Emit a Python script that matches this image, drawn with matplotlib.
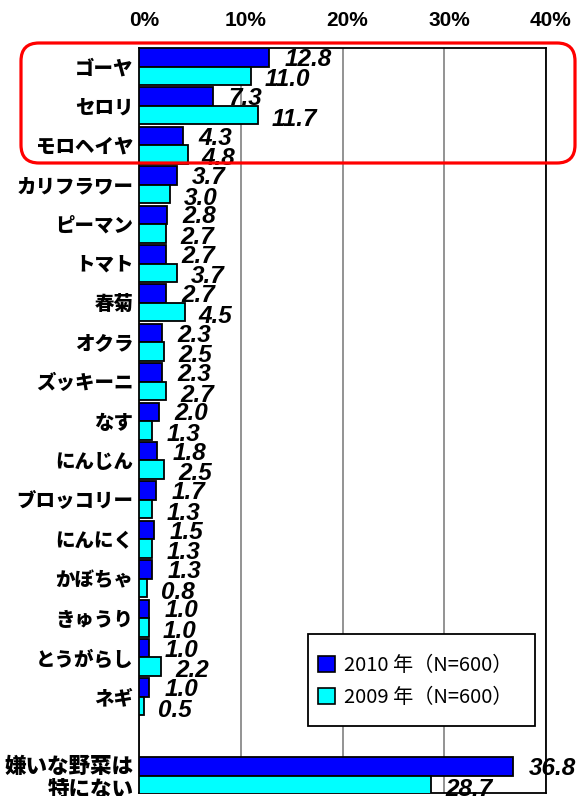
import matplotlib
matplotlib.use("Agg")
import matplotlib.pyplot as plt
from matplotlib.patches import FancyBboxPatch, Patch, Rectangle
from matplotlib.transforms import ScaledTranslation

plt.rcParams['font.family'] = ['Noto Sans CJK JP', 'DejaVu Sans']

# Disliked vegetables, share of respondents (%)
categories = ["ゴーヤ", "セロリ", "モロヘイヤ", "カリフラワー", "ピーマン", "トマト",
              "春菊", "オクラ", "ズッキーニ", "なす", "にんじん", "ブロッコリー",
              "にんにく", "かぼちゃ", "きゅうり", "とうがらし", "ネギ",
              "嫌いな野菜は\n特にない"]
values_2010 = [12.8, 7.3, 4.3, 3.7, 2.8, 2.7, 2.7, 2.3, 2.3, 2.0, 1.8, 1.7,
               1.5, 1.3, 1.0, 1.0, 1.0, 36.8]
values_2009 = [11.0, 11.7, 4.8, 3.0, 2.7, 3.7, 4.5, 2.5, 2.7, 1.3, 2.5, 1.3,
               1.3, 0.8, 1.0, 2.2, 0.5, 28.7]
series_labels = ["2010 年（N=600）", "2009 年（N=600）"]
xticks = [0, 10, 20, 30, 40]
xtick_labels = ["0%", "10%", "20%", "30%", "40%"]

color_2010 = "#0000FF"
color_2009 = "#00FFFF"

W, H = 579, 796
fig = plt.figure(figsize=(W / 100, H / 100), dpi=100)
ax = fig.add_axes([139 / W, 1 - 793 / H, (546 - 139) / W, (793 - 48) / H])

# the "no disliked vegetable" row sits one slot below the rest
n = len(categories)
pos = [i if i < n - 1 else i + 1 for i in range(n)]
bh = 0.47

ax.barh([p - bh / 2 for p in pos], values_2010, height=bh, color=color_2010,
        edgecolor="black", linewidth=1.3, zorder=3)
ax.barh([p + bh / 2 for p in pos], values_2009, height=bh, color=color_2009,
        edgecolor="black", linewidth=1.3, zorder=3)

num_font = dict(family="Liberation Sans", fontsize=17.5, fontweight="bold",
                fontstyle="italic", color="black")
for p, v in zip(pos, values_2010):
    ax.annotate(f"{v:.1f}", xy=(v, p - bh / 2), xytext=(11, -1.5),
                textcoords="offset points", ha="left", va="center",
                annotation_clip=False, zorder=5, **num_font)
for p, v in zip(pos, values_2009):
    ax.annotate(f"{v:.1f}", xy=(v, p + bh / 2), xytext=(10, -3),
                textcoords="offset points", ha="left", va="center",
                annotation_clip=False, zorder=5, **num_font)

ax.set_xlim(0, 40)
ax.set_ylim(18.44, -0.47)

ax.set_yticks(pos)
ax.set_yticklabels(categories, fontsize=14, fontweight="heavy", linespacing=1.0)
last = ax.get_yticklabels()[-1]
last.set_fontsize(15.5)
last.set_transform(last.get_transform()
                   + ScaledTranslation(0, 7 / 100, fig.dpi_scale_trans))
ax.tick_params(axis="y", length=0, pad=4)

ax.xaxis.tick_top()
ax.set_xticks(xticks)
ax.set_xticklabels(xtick_labels, family="Liberation Sans", fontsize=15,
                   fontweight="bold")
ax.tick_params(axis="x", length=0, pad=13)
shift = ScaledTranslation(5 / 100, 0, fig.dpi_scale_trans)
for lbl in ax.get_xticklabels():
    lbl.set_transform(lbl.get_transform() + shift)

ax.xaxis.grid(True, color="#808080", linewidth=1.2, zorder=0)
ax.set_axisbelow(True)
for s in ax.spines.values():
    s.set_color("black")
    s.set_linewidth(1.3)

# legend: entries without their own frame, boxed by a plain rectangle
handles = [Patch(facecolor=color_2010, edgecolor="black", linewidth=1.2),
           Patch(facecolor=color_2009, edgecolor="black", linewidth=1.2)]
fig.patches.append(Rectangle((308 / W, 1 - 726 / H), (535 - 308) / W, 92 / H,
                             transform=fig.transFigure, facecolor="white",
                             edgecolor="black", linewidth=1.3, zorder=8))
leg = fig.legend(handles, series_labels, loc="upper left",
                 bbox_to_anchor=(318 / W, 1 - 655 / H), fontsize=14.5,
                 handlelength=0.82, handleheight=0.82, handletextpad=0.45,
                 borderpad=0, labelspacing=0.55, borderaxespad=0,
                 frameon=False)
leg.set_zorder(9)

# highlight box around the top three rows
box = FancyBboxPatch((0.21 + 0.18, (H - 163) / 100 + 0.18),
                     5.75 - 0.21 - 0.36, (163 - 43) / 100 - 0.36,
                     boxstyle="round,pad=0.18", transform=fig.dpi_scale_trans,
                     facecolor="none", edgecolor="#FF0000", linewidth=2.3,
                     zorder=10)
fig.patches.append(box)

fig.savefig("out.png", dpi=100)
